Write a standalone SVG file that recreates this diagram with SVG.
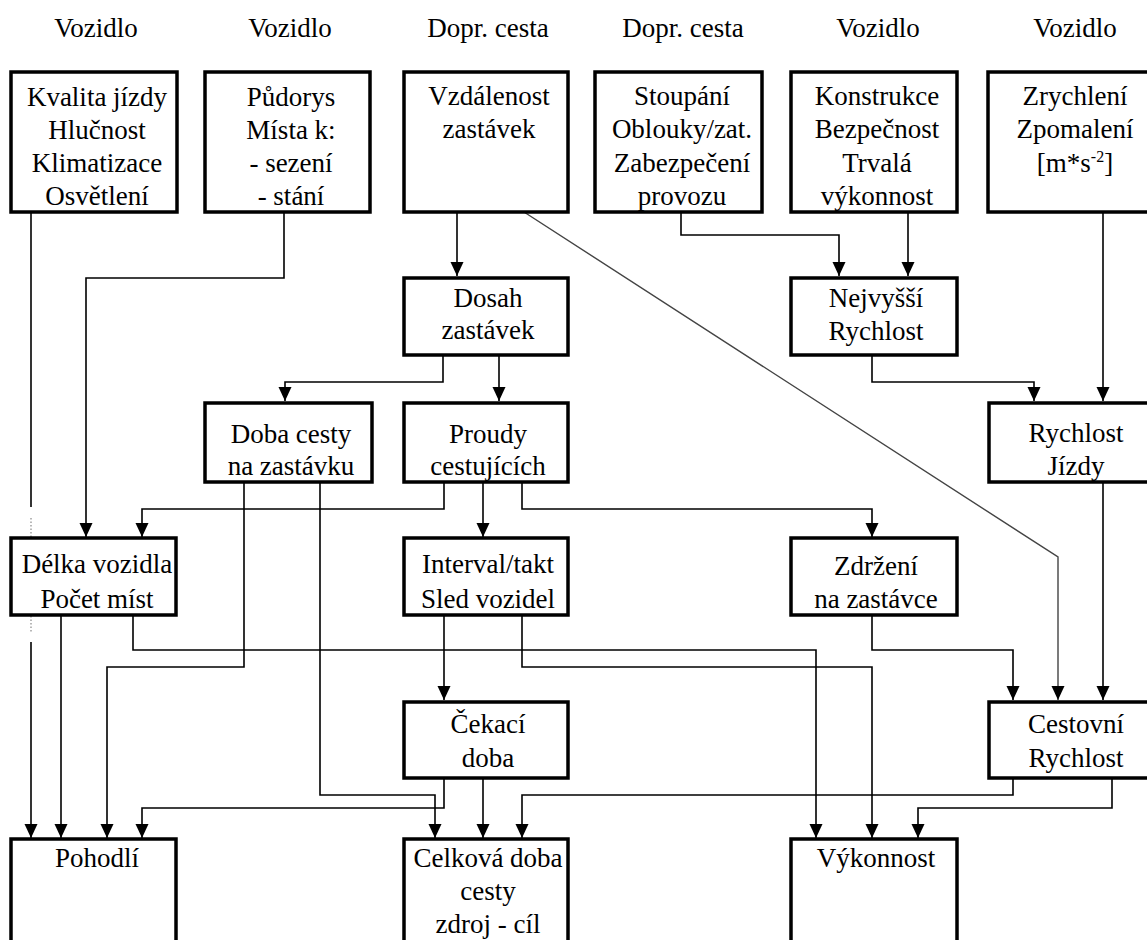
<svg xmlns="http://www.w3.org/2000/svg" width="1147" height="940" viewBox="0 0 1147 940">
<style>
  .box { fill: #fff; stroke: #000; stroke-width: 3.5; }
  .t { font-family: 'Liberation Serif', 'DejaVu Serif', 'Times New Roman', Times, serif; font-size: 27px; fill: #000; text-anchor: middle; }
  .c { fill: none; stroke: #000; stroke-width: 1.6; }
  .ca { fill: none; stroke: #000; stroke-width: 1.6; marker-end: url(#arr); }
  .diag { fill: none; stroke: #444; stroke-width: 1.4; marker-end: url(#arr); }
  .dot { fill: none; stroke: #999; stroke-width: 1.4; stroke-dasharray: 1.5 2; }
</style>
<defs>
  <marker id="arr" markerUnits="userSpaceOnUse" markerWidth="14" markerHeight="15" refX="7" refY="14" orient="0">
    <path d="M0.5,0 L13.5,0 L7,14 z" fill="#000"/>
  </marker>
</defs>
<rect width="1147" height="940" fill="#fff"/>

<g id="headers">
  <text class="t" x="96" y="37">Vozidlo</text>
  <text class="t" x="290" y="37">Vozidlo</text>
  <text class="t" x="488" y="37">Dopr. cesta</text>
  <text class="t" x="683" y="37">Dopr. cesta</text>
  <text class="t" x="878" y="37">Vozidlo</text>
  <text class="t" x="1075" y="37">Vozidlo</text>
</g>

<g id="connectors">
  <path class="c" d="M31,212 V507"/>
  <path class="dot" d="M31,518 V633"/>
  <path class="ca" d="M31,642 V838"/>
  <path class="ca" d="M284,212 V278 H86 V537"/>
  <path class="ca" d="M457,212 V276"/>
  <path class="diag" d="M524,212 L1058,557 V700"/>
  <path class="ca" d="M681,212 V235 H839 V276"/>
  <path class="ca" d="M908,212 V276"/>
  <path class="ca" d="M1103,212 V401"/>
  <path class="ca" d="M872,355 V382 H1034 V401"/>
  <path class="ca" d="M443,355 V382 H285 V401"/>
  <path class="ca" d="M499,355 V401"/>
  <path class="ca" d="M444,482 V509 H142 V537"/>
  <path class="ca" d="M483,482 V537"/>
  <path class="ca" d="M522,482 V509 H872 V537"/>
  <path class="ca" d="M1103,482 V700"/>
  <path class="ca" d="M61,615 V838"/>
  <path class="ca" d="M133,615 V650 H816 V838"/>
  <path class="ca" d="M244,482 V667 H107 V838"/>
  <path class="ca" d="M320,482 V795 H435 V838"/>
  <path class="ca" d="M444,615 V700"/>
  <path class="ca" d="M522,615 V667 H872 V838"/>
  <path class="ca" d="M872,615 V650 H1013 V700"/>
  <path class="ca" d="M444,778 V808 H142 V838"/>
  <path class="ca" d="M483,778 V838"/>
  <path class="ca" d="M1013,778 V795 H522 V838"/>
  <path class="ca" d="M1112,778 V808 H918 V838"/>
</g>

<g id="n-kvalita">
  <rect class="box" x="11" y="72" width="166" height="140"/>
  <text class="t" x="97" y="106">Kvalita jízdy</text>
  <text class="t" x="97" y="139">Hlučnost</text>
  <text class="t" x="97" y="172">Klimatizace</text>
  <text class="t" x="97" y="205">Osvětlení</text>
</g>
<g id="n-pudorys">
  <rect class="box" x="205" y="72" width="165" height="140"/>
  <text class="t" x="291" y="106">Půdorys</text>
  <text class="t" x="291" y="139">Místa k:</text>
  <text class="t" x="291" y="172">- sezení</text>
  <text class="t" x="291" y="205">- stání</text>
</g>
<g id="n-vzdalenost">
  <rect class="box" x="404" y="72" width="164" height="140"/>
  <text class="t" x="489" y="105">Vzdálenost</text>
  <text class="t" x="489" y="138">zastávek</text>
</g>
<g id="n-stoupani">
  <rect class="box" x="595" y="72" width="167" height="140"/>
  <text class="t" x="682" y="105">Stoupání</text>
  <text class="t" x="682" y="138">Oblouky/zat.</text>
  <text class="t" x="682" y="172">Zabezpečení</text>
  <text class="t" x="682" y="205">provozu</text>
</g>
<g id="n-konstrukce">
  <rect class="box" x="791" y="72" width="166" height="140"/>
  <text class="t" x="877" y="105">Konstrukce</text>
  <text class="t" x="877" y="138">Bezpečnost</text>
  <text class="t" x="877" y="172">Trvalá</text>
  <text class="t" x="877" y="205">výkonnost</text>
</g>
<g id="n-zrychleni">
  <rect class="box" x="988" y="72" width="172" height="140"/>
  <text class="t" x="1075" y="105">Zrychlení</text>
  <text class="t" x="1075" y="138">Zpomalení</text>
  <text class="t" x="1075" y="172">[m*s<tspan font-size="16" dy="-10">-2</tspan><tspan dy="10">]</tspan></text>
</g>

<g id="n-dosah">
  <rect class="box" x="404" y="278" width="164" height="77"/>
  <text class="t" x="488" y="307">Dosah</text>
  <text class="t" x="488" y="339">zastávek</text>
</g>
<g id="n-nejvyssi">
  <rect class="box" x="791" y="278" width="166" height="77"/>
  <text class="t" x="876" y="307">Nejvyšší</text>
  <text class="t" x="876" y="340">Rychlost</text>
</g>

<g id="n-doba-cesty">
  <rect class="box" x="205" y="403" width="167" height="79"/>
  <text class="t" x="291" y="443">Doba cesty</text>
  <text class="t" x="291" y="475">na zastávku</text>
</g>
<g id="n-proudy">
  <rect class="box" x="404" y="403" width="164" height="79"/>
  <text class="t" x="488" y="443">Proudy</text>
  <text class="t" x="488" y="475">cestujících</text>
</g>
<g id="n-rychlost-jizdy">
  <rect class="box" x="989" y="403" width="171" height="79"/>
  <text class="t" x="1076" y="442">Rychlost</text>
  <text class="t" x="1076" y="475">Jízdy</text>
</g>

<g id="n-delka">
  <rect class="box" x="11" y="538" width="165" height="77"/>
  <text class="t" x="97" y="573">Délka vozidla</text>
  <text class="t" x="97" y="608">Počet míst</text>
</g>
<g id="n-interval">
  <rect class="box" x="404" y="538" width="164" height="77"/>
  <text class="t" x="488" y="573">Interval/takt</text>
  <text class="t" x="488" y="608">Sled vozidel</text>
</g>
<g id="n-zdrzeni">
  <rect class="box" x="791" y="538" width="166" height="77"/>
  <text class="t" x="876" y="575">Zdržení</text>
  <text class="t" x="876" y="608">na zastávce</text>
</g>

<g id="n-cekaci">
  <rect class="box" x="404" y="702" width="164" height="76"/>
  <text class="t" x="488" y="733">Čekací</text>
  <text class="t" x="488" y="767">doba</text>
</g>
<g id="n-cestovni">
  <rect class="box" x="989" y="702" width="171" height="76"/>
  <text class="t" x="1076" y="733">Cestovní</text>
  <text class="t" x="1076" y="767">Rychlost</text>
</g>

<g id="n-pohodli">
  <rect class="box" x="11" y="839" width="165" height="110"/>
  <text class="t" x="97" y="867">Pohodlí</text>
</g>
<g id="n-celkova">
  <rect class="box" x="404" y="839" width="164" height="110"/>
  <text class="t" x="488" y="867">Celková doba</text>
  <text class="t" x="488" y="900">cesty</text>
  <text class="t" x="488" y="933">zdroj - cíl</text>
</g>
<g id="n-vykonnost">
  <rect class="box" x="791" y="839" width="166" height="110"/>
  <text class="t" x="876" y="867">Výkonnost</text>
</g>
</svg>
